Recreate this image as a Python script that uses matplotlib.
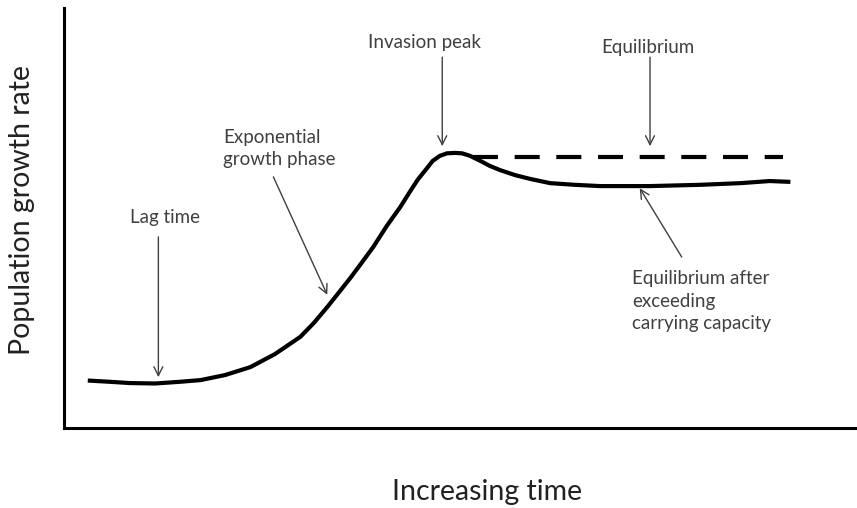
import matplotlib

matplotlib.use("Agg")
import matplotlib.pyplot as plt

plt.rcParams["font.family"] = ["Lato", "DejaVu Sans"]

# Growth curve (time and rate on a 0-100 scale)
time = [3.0, 5.8, 8.3, 11.5, 14.6, 17.2, 20.3, 23.5, 26.6, 29.8, 31.5, 33.2,
        34.8, 36.1, 37.6, 39.0, 40.7, 42.4, 43.6, 44.6, 45.7, 46.5, 47.4, 48.3,
        49.3, 50.2, 51.2, 52.5, 53.7, 55.0, 56.9, 58.8, 61.3, 64.4, 67.6, 73.9,
        80.2, 85.3, 89.0, 91.6]
rate = [11.3, 11.0, 10.7, 10.6, 11.0, 11.4, 12.6, 14.5, 17.6, 21.7, 25.0, 28.8,
        32.6, 35.7, 39.5, 43.1, 48.1, 52.6, 56.2, 59.1, 61.7, 63.6, 64.8, 65.4,
        65.5, 65.4, 64.8, 63.6, 62.4, 61.4, 60.2, 59.3, 58.3, 57.9, 57.6, 57.6,
        57.9, 58.3, 58.8, 58.6]

# Theoretical carrying capacity (dashed)
cap_time = [51.6, 90.7]
cap_rate = [64.5, 64.5]

# Annotations: label, text position, arrow start, arrow tip
labels = ["Lag time", "Exponential\ngrowth phase", "Invasion peak",
          "Equilibrium", "Equilibrium after\nexceeding\ncarrying capacity"]
text_pos = [(12.7, 50.2), (20.1, 66.5), (45.5, 91.9), (73.6, 90.7), (71.6, 30.2)]
text_ha = ["center", "left", "center", "center", "left"]
arrow_from = [(11.9, 45.5), (26.4, 59.8), (47.7, 88.3), (73.9, 88.3), (77.9, 40.7)]
arrow_to = [(11.9, 12.1), (33.2, 31.7), (47.7, 67.1), (73.9, 67.1), (72.6, 57.1)]

fig = plt.figure(figsize=(8.57, 5.08), dpi=100)
ax = fig.add_axes([64 / 857, 80 / 508, 1 - 64 / 857, 420 / 508])

ax.plot(time, rate, color="black", linewidth=3, solid_capstyle="butt",
        solid_joinstyle="round")
ax.plot(cap_time, cap_rate, color="black", linewidth=3, dashes=(6, 4))

for label, pos, ha, start, tip in zip(labels, text_pos, text_ha, arrow_from, arrow_to):
    ax.text(pos[0], pos[1], label, ha=ha, va="center", fontsize=13.5,
            color="#404040", linespacing=1.4)
    ax.annotate("", xy=tip, xytext=start,
                arrowprops=dict(arrowstyle="->", color="#404040", lw=1,
                                mutation_scale=16, shrinkA=0, shrinkB=0))

ax.set_xlim(0, 100)
ax.set_ylim(0, 100)
ax.set_xticks([])
ax.set_yticks([])
for side in ["top", "right"]:
    ax.spines[side].set_visible(False)
for side in ["left", "bottom"]:
    ax.spines[side].set_linewidth(2.2)
    ax.spines[side].set_color("black")

fig.text(487 / 857, 1 - 492 / 508, "Increasing time", ha="center", va="center",
         fontsize=20.5, color="#222222")
fig.text(22 / 857, 1 - 210 / 508, "Population growth rate", ha="center",
         va="center", rotation=90, fontsize=20.5, color="#222222")

fig.savefig("out.png", dpi=100)
